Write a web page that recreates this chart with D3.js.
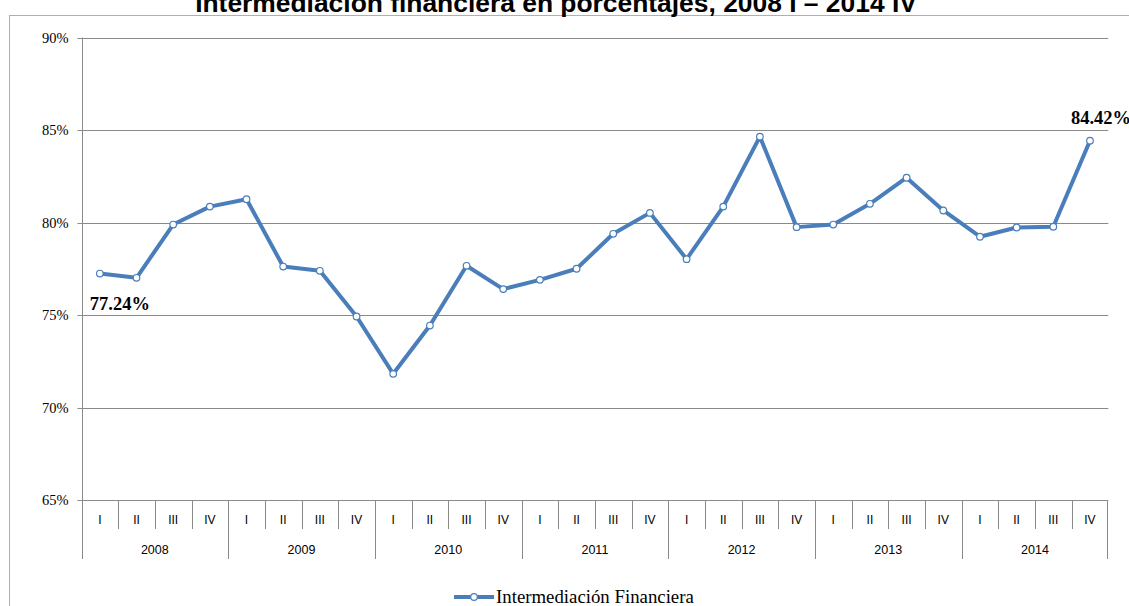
<!DOCTYPE html>
<html>
<head>
<meta charset="utf-8">
<script src="https://cdn.jsdelivr.net/npm/d3@7/dist/d3.min.js"></script>
<style>
  html, body { margin: 0; padding: 0; background: #fff; }
  svg { display: block; }
</style>
</head>
<body>
<script>
// ---- Data ----
const years = ["2008", "2009", "2010", "2011", "2012", "2013", "2014"];
const quarters = ["I", "II", "III", "IV"];
const values = [
  77.24, 77.01, 79.89, 80.86,
  81.26, 77.62, 77.39, 74.92,
  71.82, 74.43, 77.66, 76.40,
  76.90, 77.50, 79.39, 80.52,
  78.02, 80.86, 84.64, 79.75,
  79.89, 81.01, 82.42, 80.65,
  79.23, 79.73, 79.77, 84.42
];
const yTicks = [65, 70, 75, 80, 85, 90];
const seriesName = "Intermediación Financiera";
const title = "Intermediación financiera en porcentajes, 2008 I – 2014 IV";

// categories built from years x quarters
const categories = [];
years.forEach(y => quarters.forEach(q => categories.push(y + "-" + q)));
const data = categories.map((c, i) => ({ key: c, year: c.split("-")[0], q: c.split("-")[1], v: values[i] }));

// ---- Layout ----
const W = 1129, H = 606;
const plot = { left: 81.5, right: 1108.3, top: 37.5, bottom: 500 };
const blue = "#4a7ebb";
const gridColor = "#8a8a8a";
const serif = "'Liberation Serif', 'Times New Roman', serif";
const sans = "'Liberation Sans', Arial, sans-serif";

const svg = d3.select("body").append("svg").attr("width", W).attr("height", H);

// outer frame (clipped at right/bottom like reference)
svg.append("rect").attr("x", 9.5).attr("y", 15.5).attr("width", W + 20).attr("height", H + 20)
  .attr("fill", "none").attr("stroke", "#b0b0b0").attr("stroke-width", 1);

// title
const t = svg.append("text").attr("x", 556).attr("y", 11.5).attr("text-anchor", "middle")
  .style("font-family", sans).style("font-weight", "bold")
  .style("font-size", "20px").attr("fill", "#000").text(title);
(function fit(){ const w = t.node().getComputedTextLength(); t.style("font-size", (20 * 722 / w) + "px"); })();

const x = d3.scaleBand().domain(categories).range([plot.left, plot.right]).padding(0);
const y = d3.scaleLinear().domain([65, 90]).range([plot.bottom, plot.top]);

// gridlines
svg.append("g").selectAll("line").data(yTicks).join("line")
  .attr("x1", plot.left).attr("x2", plot.right)
  .attr("y1", d => Math.round(y(d)) + 0.5).attr("y2", d => Math.round(y(d)) + 0.5)
  .attr("stroke", gridColor).attr("stroke-width", 1);

// y axis
const yAxis = d3.axisLeft(y).tickValues(yTicks).tickSize(5).tickPadding(9).tickFormat(d => d + "%");
const gy = svg.append("g").attr("transform", `translate(${Math.round(plot.left) + 0.5},0)`).call(yAxis);
gy.attr("font-family", null).attr("font-size", null);
gy.select(".domain").attr("stroke", gridColor).attr("d", `M0,${plot.top}V${plot.bottom}`);
gy.selectAll(".tick line").attr("stroke", gridColor);
gy.selectAll(".tick").attr("transform", d => `translate(0,${Math.round(y(d)) + 0.5})`);
gy.selectAll(".tick text").style("font-family", serif)
  .style("font-size", "14.5px").attr("fill", "#000");

// x axis: quarter separators and labels
const gx = svg.append("g");
const bw = x.bandwidth();
categories.forEach((c, i) => {
  const x0 = x(c);
  const isYearStart = i % 4 === 0;
  gx.append("line").attr("x1", Math.round(x0) + 0.5).attr("x2", Math.round(x0) + 0.5)
    .attr("y1", plot.bottom).attr("y2", isYearStart ? 559 : 529)
    .attr("stroke", gridColor).attr("stroke-width", 1);
});
gx.append("line").attr("x1", Math.round(plot.right) - 0.5).attr("x2", Math.round(plot.right) - 0.5)
  .attr("y1", plot.bottom).attr("y2", 559).attr("stroke", gridColor);
gx.selectAll("text.q").data(data).join("text").attr("class", "q")
  .attr("x", d => x(d.key) + bw / 2).attr("y", 523.5).attr("text-anchor", "middle")
  .style("font-family", sans).style("font-size", "12px").attr("fill", "#000")
  .text(d => d.q);
gx.selectAll("text.y").data(years).join("text").attr("class", "y")
  .attr("x", d => x(d + "-I") + bw * 2).attr("y", 553.5).attr("text-anchor", "middle")
  .style("font-family", sans).style("font-size", "12.5px").attr("fill", "#000")
  .text(d => d);

// line
const line = d3.line().x(d => x(d.key) + bw / 2).y(d => y(d.v));
svg.append("path").datum(data).attr("d", line).attr("fill", "none")
  .attr("stroke", blue).attr("stroke-width", 4).attr("stroke-linejoin", "round");
svg.append("g").selectAll("circle").data(data).join("circle")
  .attr("cx", d => x(d.key) + bw / 2).attr("cy", d => y(d.v)).attr("r", 3.3)
  .attr("fill", "#fff").attr("stroke", blue).attr("stroke-width", 1.2);

// data labels (first and last)
const first = data[0], last = data[data.length - 1];
svg.append("text").attr("x", x(first.key) + bw / 2 - 10).attr("y", y(first.v) + 36)
  .style("font-family", serif).style("font-weight", "bold")
  .style("font-size", "18.5px").attr("fill", "#000").text(first.v.toFixed(2) + "%");
svg.append("text").attr("x", x(last.key) + bw / 2 - 19).attr("y", y(last.v) - 17)
  .style("font-family", serif).style("font-weight", "bold")
  .style("font-size", "18.5px").attr("fill", "#000").text(last.v.toFixed(2) + "%");

// legend
const lg = svg.append("g");
lg.append("line").attr("x1", 454).attr("x2", 494).attr("y1", 597).attr("y2", 597)
  .attr("stroke", blue).attr("stroke-width", 4);
lg.append("circle").attr("cx", 474).attr("cy", 597).attr("r", 3.3)
  .attr("fill", "#fff").attr("stroke", blue).attr("stroke-width", 1.2);
const lt = lg.append("text").attr("x", 496).attr("y", 602.5)
  .style("font-family", serif).style("font-size", "16px")
  .attr("fill", "#000").text(seriesName);
(function fit(){ const w = lt.node().getComputedTextLength(); lt.style("font-size", (16 * 198 / w) + "px"); })();
</script>
</body>
</html>
